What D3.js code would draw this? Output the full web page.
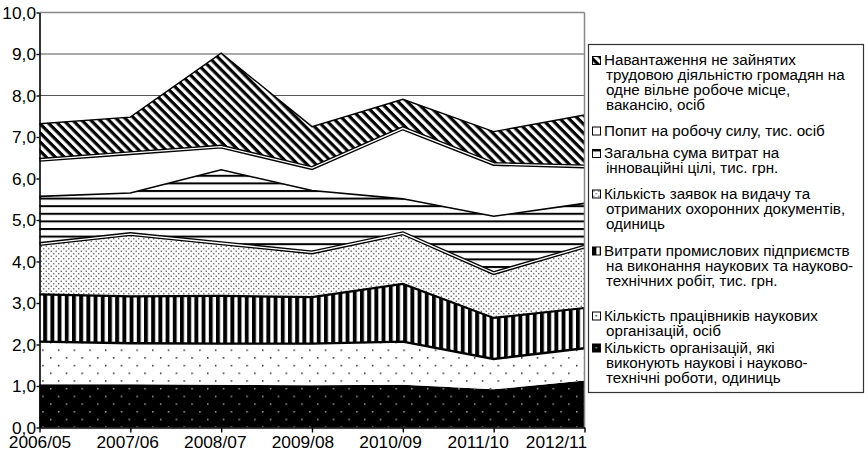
<!DOCTYPE html>
<html>
<head>
<meta charset="utf-8">
<script src="https://cdn.jsdelivr.net/npm/d3@7"></script>
<style>
  body { margin: 0; background: #fff; }
  svg { display: block; font-family: "Liberation Sans", Arial, sans-serif; }
</style>
</head>
<body>
<svg id="chart" width="868" height="453"></svg>
<script>
// data (stack order: bottom -> top)
const years = ['2006/05', '2007/06', '2008/07', '2009/08', '2010/09', '2011/10', '2012/11'];
const organizations   = [1.04, 1.04, 1.03, 1.02, 1.03, 0.92, 1.13];
const researchers     = [1.03, 0.99, 0.99, 1.00, 1.04, 0.73, 0.78];
const industryCosts   = [1.14, 1.13, 1.15, 1.12, 1.39, 0.99, 0.97];
const patentApps      = [1.21, 1.50, 1.27, 1.08, 1.22, 1.08, 1.48];
const innovationCosts = [1.15, 0.99, 1.77, 1.49, 0.83, 1.37, 1.04];
const labourDemand    = [0.88, 0.96, 0.56, 0.54, 1.70, 1.26, 0.89];
const jobseekerLoad   = [0.87, 0.87, 2.25, 1.00, 0.70, 0.78, 1.24];
const yTicks = [0, 1, 2, 3, 4, 5, 6, 7, 8, 9, 10];

const seriesKeys = ['org', 'res', 'ind', 'pat', 'inn', 'dem', 'load'];
const seriesValues = [organizations, researchers, industryCosts, patentApps, innovationCosts, labourDemand, jobseekerLoad];

// legend, top -> bottom as in the picture
const legendKeys = ['load', 'dem', 'inn', 'pat', 'ind', 'res', 'org'];
const legendLabels = [
  ['Навантаження не зайнятих', 'трудовою діяльністю громадян на', 'одне вільне робоче місце,', 'вакансію, осіб'],
  ['Попит на робочу силу, тис. осіб'],
  ['Загальна сума витрат на', 'інноваційні цілі, тис. грн.'],
  ['Кількість заявок на видачу та', 'отриманих охоронних документів,', 'одиниць'],
  ['Витрати промислових підприємств', 'на виконання наукових та науково-', 'технічних робіт, тис. грн.'],
  ['Кількість працівників наукових', 'організацій, осіб'],
  ['Кількість організацій, які', 'виконують наукові і науково-', 'технічні роботи, одиниць']
];
const legendBaselines = [65, 135.5, 158, 198.5, 255.5, 320.5, 352.5];
const legendLineStep = 15;

const table = years.map((yr, i) => {
  const row = { year: yr };
  seriesKeys.forEach((k, j) => row[k] = seriesValues[j][i]);
  return row;
});

const svg = d3.select('#chart');
const defs = svg.append('defs');

// fill patterns
function pat(id, w, h, extra) {
  const p = defs.append('pattern').attr('id', id)
    .attr('patternUnits', 'userSpaceOnUse').attr('width', w).attr('height', h);
  if (extra) p.attr('patternTransform', extra);
  return p;
}
let p;
p = pat('p-load', 6.4, 6.4, 'rotate(45)');
p.append('rect').attr('width', 6.4).attr('height', 6.4).attr('fill', '#fff');
p.append('rect').attr('width', 6.4).attr('height', 3.2).attr('fill', '#000');

p = pat('p-dem', 10, 10);
p.append('rect').attr('width', 10).attr('height', 10).attr('fill', '#fff');

p = pat('p-inn', 8, 7.6);
p.append('rect').attr('width', 8).attr('height', 7.6).attr('fill', '#fff');
p.append('rect').attr('width', 8).attr('height', 2).attr('fill', '#000');

p = pat('p-pat', 5, 5);
p.append('rect').attr('width', 5).attr('height', 5).attr('fill', '#fff');
p.append('rect').attr('x', 0.6).attr('y', 0.6).attr('width', 1.3).attr('height', 1.3).attr('fill', '#555');
p.append('rect').attr('x', 3.1).attr('y', 3.1).attr('width', 1.3).attr('height', 1.3).attr('fill', '#555');

p = pat('p-ind', 7.2, 10);
p.append('rect').attr('width', 7.2).attr('height', 10).attr('fill', '#fff');
p.append('rect').attr('width', 3.9).attr('height', 10).attr('fill', '#000');

p = pat('p-res', 15.7, 15.4);
p.append('rect').attr('width', 15.7).attr('height', 15.4).attr('fill', '#fff');
p.append('rect').attr('x', 3).attr('y', 3).attr('width', 1.4).attr('height', 1.4).attr('fill', '#000');
p.append('rect').attr('x', 10.85).attr('y', 10.7).attr('width', 1.4).attr('height', 1.4).attr('fill', '#000');

p = pat('p-org', 15.7, 15.4);
p.append('rect').attr('width', 15.7).attr('height', 15.4).attr('fill', '#000');
p.append('rect').attr('x', 3).attr('y', 3).attr('width', 1.4).attr('height', 1.4).attr('fill', '#bbb');
p.append('rect').attr('x', 10.85).attr('y', 10.7).attr('width', 1.4).attr('height', 1.4).attr('fill', '#bbb');

// edge style of each layer's upper border
const edgeStyle = {
  org:  { w: 0, dbl: false },
  res:  { w: 2.4, dbl: false },
  ind:  { w: 2.2, dbl: false },
  pat:  { w: 4, dbl: true },
  inn:  { w: 1.6, dbl: false },
  dem:  { w: 4, dbl: true },
  load: { w: 1.4, dbl: false }
};

const x = d3.scalePoint().domain(years).range([39.5, 584.5]);
const y = d3.scaleLinear().domain([0, 10]).range([427.5, 12.5]);

const stacked = d3.stack().keys(seriesKeys)(table);

// gridlines
svg.append('g').selectAll('line').data(yTicks.filter(d => d > 0)).join('line')
  .attr('x1', x.range()[0]).attr('x2', x.range()[1])
  .attr('y1', d => y(d)).attr('y2', d => y(d))
  .attr('stroke', d => d === 10 ? '#888' : '#555').attr('stroke-width', d => d === 10 ? 1.5 : 1);

const area = d3.area()
  .x(d => x(d.data.year)).y0(d => y(d[0])).y1(d => y(d[1]));
const topLine = d3.line()
  .x(d => x(d.data.year)).y(d => y(d[1]));

svg.append('g').selectAll('path').data(stacked).join('path')
  .attr('d', area)
  .attr('fill', d => `url(#p-${d.key})`);

const edges = svg.append('g').attr('fill', 'none').attr('stroke-linejoin', 'miter');
stacked.forEach(s => {
  const st = edgeStyle[s.key];
  if (!st.w) return;
  edges.append('path').attr('d', topLine(s)).attr('stroke', '#000').attr('stroke-width', st.w);
  if (st.dbl) edges.append('path').attr('d', topLine(s)).attr('stroke', '#fff').attr('stroke-width', 1.3);
});

// right border of plot area
svg.append('line')
  .attr('x1', x.range()[1]).attr('x2', x.range()[1])
  .attr('y1', y(10)).attr('y2', y(0))
  .attr('stroke', '#888').attr('stroke-width', 1.5);

// axes
const fmt = d => d.toFixed(1).replace('.', ',');
const yAxis = svg.append('g').attr('transform', `translate(${x.range()[0]},0)`)
  .call(d3.axisLeft(y).tickValues(yTicks).tickFormat(fmt).tickSize(3).tickSizeOuter(0).tickPadding(0.5));
const xAxis = svg.append('g').attr('transform', `translate(0,${y(0)})`)
  .call(d3.axisBottom(x).tickSize(5).tickSizeOuter(0).tickPadding(3.5));

[yAxis, xAxis].forEach(a => {
  a.select('.domain').attr('stroke', '#000').attr('stroke-width', 1.6);
  a.selectAll('.tick line').attr('stroke', '#000').attr('stroke-width', 1.4);
  a.selectAll('text').attr('fill', '#000').attr('font-size', 17.3)
    .attr('font-family', '"Liberation Sans", Arial, sans-serif');
});
// labels drift a little left of their ticks in the original, last one is right-aligned
xAxis.selectAll('.tick text')
  .attr('dx', (d, i) => i === years.length - 1 ? 2 : -3.2 * i)
  .attr('text-anchor', (d, i) => i === years.length - 1 ? 'end' : 'middle');

// legend
const legend = svg.append('g');
legend.append('rect')
  .attr('x', 588.5).attr('y', 44.5).attr('width', 275).attr('height', 348)
  .attr('fill', '#fff').attr('stroke', '#333').attr('stroke-width', 1.2);

legendKeys.forEach((k, i) => {
  const base = legendBaselines[i];
  const sw = legend.append('g').attr('transform', `translate(592.5,${base - 8.5})`);
  sw.append('rect').attr('width', 8).attr('height', 8)
    .attr('fill', `url(#p-${k})`).attr('stroke', '#000').attr('stroke-width', 1);
  const t = legend.append('text').attr('font-size', 15.2).attr('fill', '#000');
  legendLabels[i].forEach((line, j) => {
    t.append('tspan').attr('x', j === 0 ? 604 : 606).attr('y', base + j * legendLineStep).text(line);
  });
});
</script>
</body>
</html>
